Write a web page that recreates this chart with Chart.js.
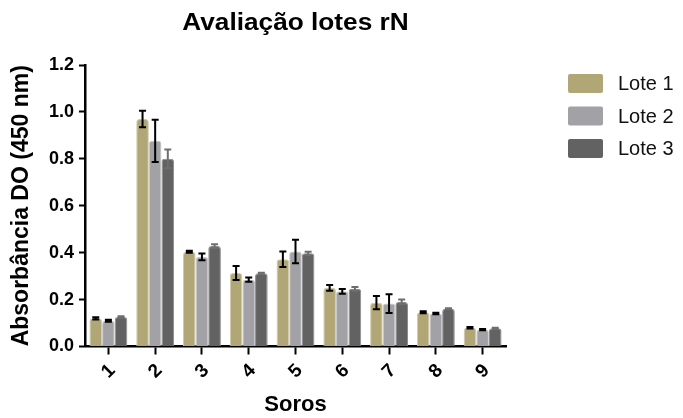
<!DOCTYPE html>
<html>
<head>
<meta charset="utf-8">
<script src="https://cdn.jsdelivr.net/npm/chart.js@4"></script>
<style>
  body { margin: 0; background: #fff; }
  canvas { display: block; }
</style>
</head>
<body>
<canvas id="chart" width="683" height="418"></canvas>
<script>
// données
const soros = ["1", "2", "3", "4", "5", "6", "7", "8", "9"];
const lote1 = [0.12, 0.97, 0.404, 0.313, 0.372, 0.25, 0.187, 0.146, 0.08];
const lote1Err = [0.005, 0.035, 0.004, 0.03, 0.033, 0.012, 0.028, 0.004, 0.003];
const lote2 = [0.11, 0.877, 0.382, 0.285, 0.405, 0.235, 0.183, 0.141, 0.072];
const lote2Err = [0.004, 0.09, 0.014, 0.009, 0.05, 0.01, 0.04, 0.003, 0.003];
const lote3 = [0.126, 0.8, 0.428, 0.312, 0.397, 0.246, 0.19, 0.161, 0.078];
const lote3Err = [0.003, 0.04, 0.008, 0.002, 0.007, 0.008, 0.01, 0.002, 0.002];
const yTickLabels = ["0.0", "0.2", "0.4", "0.6", "0.8", "1.0", "1.2"];

const FONT = "'Liberation Sans', Arial, sans-serif";

// barres d'erreur (moyenne ± erreur) via l'échelle y
const errorBars = {
  id: "errorBars",
  afterDatasetsDraw(chart) {
    const ctx = chart.ctx;
    const y = chart.scales.y;
    chart.data.datasets.forEach((ds, i) => {
      const meta = chart.getDatasetMeta(i);
      ctx.save();
      ctx.strokeStyle = ds.errColor;
      ctx.lineWidth = 2;
      meta.data.forEach((bar, j) => {
        const v = ds.data[j], e = ds.err[j];
        const top = y.getPixelForValue(v + e);
        const bot = y.getPixelForValue(v - e);
        ctx.beginPath();
        ctx.moveTo(bar.x, top); ctx.lineTo(bar.x, bot);
        ctx.moveTo(bar.x - 3.5, top); ctx.lineTo(bar.x + 3.5, top);
        ctx.moveTo(bar.x - 3.5, bot); ctx.lineTo(bar.x + 3.5, bot);
        ctx.stroke();
      });
      ctx.restore();
    });
  }
};

// titre centré sur la zone du graphe + légende à droite
const decor = {
  id: "decor",
  afterDraw(chart) {
    const ctx = chart.ctx;
    const area = chart.chartArea;
    ctx.save();
    ctx.fillStyle = "#000";
    ctx.font = "bold 23px " + FONT;
    ctx.textAlign = "center";
    ctx.textBaseline = "alphabetic";
    const cx = (area.left + area.right) / 2;
    ctx.translate(cx, 30);
    ctx.scale(1.14, 1);
    ctx.fillText("Avaliação lotes rN", 0, 0);
    ctx.restore();

    ctx.save();
    ctx.font = "20px " + FONT;
    ctx.textBaseline = "middle";
    chart.data.datasets.forEach((ds, i) => {
      const yc = 83.5 + i * 32.5;
      ctx.fillStyle = ds.backgroundColor;
      ctx.beginPath();
      ctx.roundRect(568, yc - 9.5, 35, 19, 2);
      ctx.fill();
      ctx.fillStyle = "#111";
      ctx.fillText(ds.label, 618, yc + 1);
    });
    ctx.restore();
  }
};

const ctx = document.getElementById("chart").getContext("2d");
new Chart(ctx, {
  type: "bar",
  data: {
    labels: soros,
    datasets: [
      { label: "Lote 1", data: lote1, err: lote1Err, errColor: "#000",
        backgroundColor: "#b1a776", borderColor: "#d2cbaa" },
      { label: "Lote 2", data: lote2, err: lote2Err, errColor: "#000",
        backgroundColor: "#a1a1a6", borderColor: "#c8c8cc" },
      { label: "Lote 3", data: lote3, err: lote3Err, errColor: "#6e6e6e",
        backgroundColor: "#626262", borderColor: "#8c8c8c" }
    ]
  },
  options: {
    responsive: false,
    animation: false,
    layout: { padding: { top: 65, right: 177, left: 0, bottom: 0 } },
    datasets: {
      bar: {
        categoryPercentage: 0.81,
        barPercentage: 1.0,
        borderWidth: 1,
        borderRadius: { topLeft: 3, topRight: 3 },
        borderSkipped: "bottom"
      }
    },
    plugins: {
      legend: { display: false },
      title: { display: false },
      tooltip: { enabled: false }
    },
    scales: {
      x: {
        grid: { display: true, drawOnChartArea: false, offset: false,
                tickLength: 8, tickWidth: 2, tickColor: "#000" },
        border: { display: true, color: "#000", width: 2.5 },
        ticks: { minRotation: 45, maxRotation: 45, padding: 5, labelOffset: 4,
                 color: "#000", font: { family: FONT, size: 19, weight: "bold" } },
        title: { display: true, text: "Soros", color: "#000",
                 font: { family: FONT, size: 22, weight: "bold" },
                 padding: { top: 0, bottom: 0 } },
        afterFit: (s) => { s.height = 71.5; }
      },
      y: {
        min: 0,
        max: 1.2,
        grid: { display: true, drawOnChartArea: false,
                tickLength: 6, tickWidth: 2, tickColor: "#000" },
        border: { display: true, color: "#000", width: 2.5 },
        ticks: { stepSize: 0.2, padding: 5, color: "#000",
                 font: { family: FONT, size: 18, weight: "bold" },
                 callback: (v, i) => yTickLabels[i] },
        title: { display: true, text: "Absorbância DO (450 nm)", color: "#000",
                 font: { family: FONT, size: 23, weight: "bold" },
                 padding: { top: 8, bottom: 0 } },
        afterFit: (s) => { s.width = 85; }
      }
    }
  },
  plugins: [errorBars, decor]
});
</script>
</body>
</html>
